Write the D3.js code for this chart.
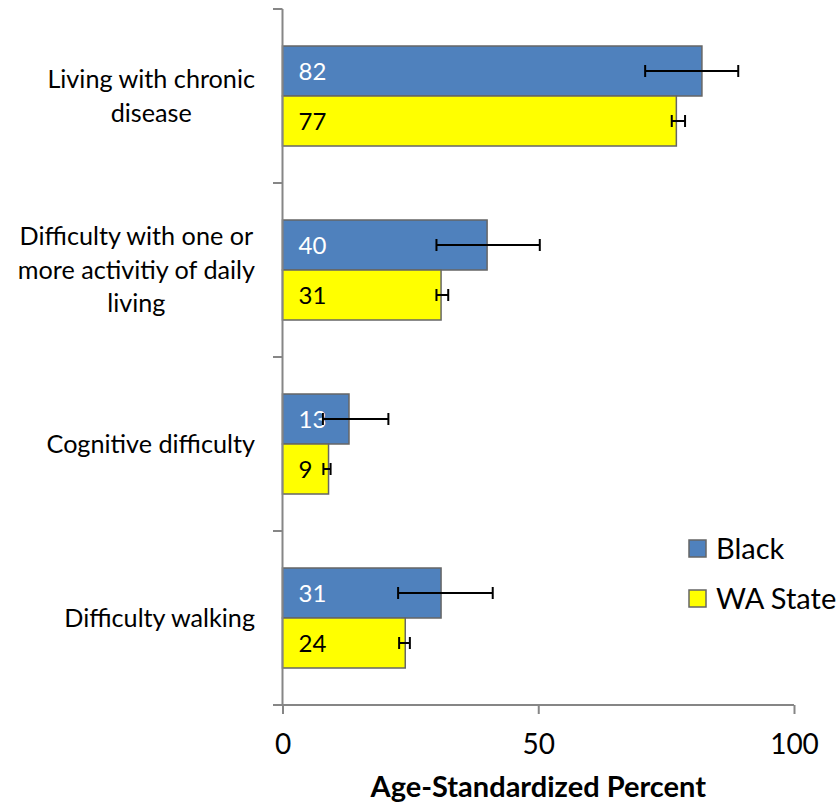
<!DOCTYPE html>
<html><head><meta charset="utf-8">
<script src="https://cdn.jsdelivr.net/npm/d3@7"></script>
<style>body{margin:0;background:#fff}svg{display:block}text{font-family:Lato,"Open Sans",sans-serif}</style>
</head><body><div id="c"></div>
<script>
const categories = ["Living with chronic disease","Difficulty with one or more activitiy of daily living","Cognitive difficulty","Difficulty walking"];
const categoryLines = [["Living with chronic","disease"],["Difficulty with one or","more activitiy of daily","living"],["Cognitive difficulty"],["Difficulty walking"]];
const series = ["Black","WA State"];
const blackValues = [82,40,13,31];
const blackLow = [70.9,30.1,7.9,22.6];
const blackHigh = [89.1,50.3,20.7,41.1];
const waValues = [77,31,9,24];
const waLow = [76.1,30.1,8.0,22.8];
const waHigh = [78.7,32.4,9.4,24.9];
const xTicks = [0,50,100];
const colors = {"Black":"#4F81BD","WA State":"#FFFF00"};
const labelColors = {"Black":"#ffffff","WA State":"#000000"};

const W=838,H=804;
const svg=d3.select("#c").append("svg").attr("width",W).attr("height",H);
const x=d3.scaleLinear().domain([0,100]).range([282.5,794]);
const y=d3.scaleBand().domain(categories).range([9,705]);
const ys=d3.scaleBand().domain(series).range([0,y.bandwidth()]).paddingOuter(0.74);

const rows=[];
categories.forEach((c,i)=>{
  rows.push({c,s:"Black",v:blackValues[i],lo:blackLow[i],hi:blackHigh[i]});
  rows.push({c,s:"WA State",v:waValues[i],lo:waLow[i],hi:waHigh[i]});
});

const axisColor="#868686";
// bars
svg.selectAll("rect.bar").data(rows).join("rect").attr("class","bar")
 .attr("x",x(0)).attr("y",d=>y(d.c)+ys(d.s)).attr("width",d=>x(d.v)-x(0)).attr("height",ys.bandwidth())
 .attr("fill",d=>colors[d.s]).attr("stroke","#666666").attr("stroke-width",1.5);
// value labels
svg.selectAll("text.val").data(rows).join("text").attr("class","val")
 .attr("x",x(0)+16).attr("y",d=>y(d.c)+ys(d.s)+ys.bandwidth()/2).attr("dy","0.36em")
 .attr("font-size",24).attr("fill",d=>labelColors[d.s]).text(d=>d.v);
// error bars
const eb=svg.selectAll("g.eb").data(rows).join("g").attr("class","eb")
 .attr("transform",d=>`translate(0,${y(d.c)+ys(d.s)+ys.bandwidth()/2})`);
eb.append("line").attr("x1",d=>x(d.lo)).attr("x2",d=>x(d.hi)).attr("stroke","#000").attr("stroke-width",2);
eb.append("line").attr("x1",d=>x(d.lo)).attr("x2",d=>x(d.lo)).attr("y1",-6).attr("y2",6).attr("stroke","#000").attr("stroke-width",2);
eb.append("line").attr("x1",d=>x(d.hi)).attr("x2",d=>x(d.hi)).attr("y1",-6).attr("y2",6).attr("stroke","#000").attr("stroke-width",2);

// y axis
svg.append("line").attr("x1",x(0)).attr("x2",x(0)).attr("y1",9).attr("y2",705).attr("stroke",axisColor).attr("stroke-width",2);
const bounds=categories.map(c=>y(c)).concat([705]);
svg.selectAll("line.ytick").data(bounds).join("line").attr("class","ytick")
 .attr("x1",273).attr("x2",x(0)).attr("y1",d=>d).attr("y2",d=>d).attr("stroke",axisColor).attr("stroke-width",2);
// x axis
const xa=svg.append("g").attr("transform","translate(0,705)")
 .call(d3.axisBottom(x).tickValues(xTicks).tickSize(9).tickPadding(20).tickFormat(d3.format("d")));
xa.select(".domain").attr("stroke",axisColor).attr("stroke-width",2).attr("d",`M${x(0)-9},0H${x(100)}`);
xa.selectAll(".tick line").attr("stroke",axisColor).attr("stroke-width",2);
xa.selectAll(".tick text").attr("font-size",28).attr("fill","#000").attr("font-family","Lato");
svg.append("text").attr("x",(x(0)+x(100))/2).attr("y",797).attr("text-anchor","middle")
 .attr("font-size",29).attr("font-weight","bold").text("Age-Standardized Percent");

// category labels
const lh=33.5, fs=25.2;
categories.forEach((c,i)=>{
  const lines=categoryLines[i];
  const g=svg.append("g");
  const ts=lines.map((l,j)=>g.append("text").attr("font-size",fs).attr("text-anchor","middle").text(l));
  const maxW=d3.max(ts,t=>t.node().getComputedTextLength());
  const cx=255-maxW/2;
  const cy=y(c)+y.bandwidth()/2;
  ts.forEach((t,j)=>t.attr("x",cx).attr("y",cy+(j-(lines.length-1)/2)*lh).attr("dy","0.35em"));
});

// legend
const lg=svg.selectAll("g.lg").data(series).join("g").attr("class","lg")
 .attr("transform",(d,i)=>`translate(689,${540+i*50})`);
lg.append("rect").attr("width",17).attr("height",17).attr("fill",d=>colors[d]).attr("stroke","#666666").attr("stroke-width",1.5);
lg.append("text").attr("x",27).attr("y",8.5).attr("dy","0.36em").attr("font-size",29).text(d=>d);
</script></body></html>
